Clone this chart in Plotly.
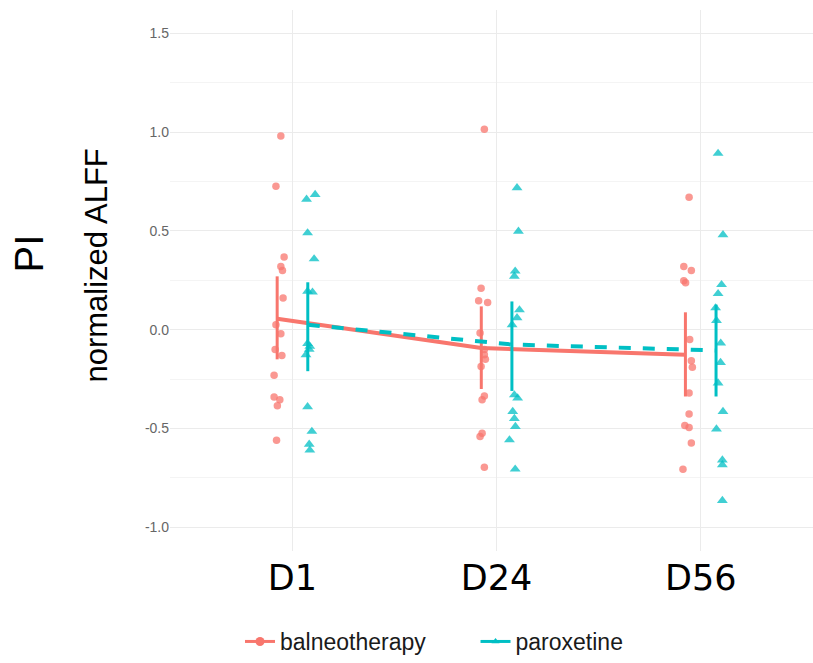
import plotly.graph_objects as go

categories = ["D1", "D24", "D56"]
cat_pos = [1, 2, 3]
dodge = 0.075

y_tick_vals = [-1.0, -0.5, 0.0, 0.5, 1.0, 1.5]
y_tick_text = ["-1.0", "-0.5", "0.0", "0.5", "1.0", "1.5"]

# group means and error bar limits
balneo_mean = [0.055, -0.093, -0.127]
balneo_low = [-0.15, -0.30, -0.338]
balneo_high = [0.27, 0.118, 0.088]
parox_mean = [0.025, -0.075, -0.105]
parox_low = [-0.21, -0.31, -0.338]
parox_high = [0.24, 0.143, 0.127]

# individual (jittered) observations
balneo_x = [0.943, 0.919, 0.959, 0.943, 0.951, 0.954, 0.919, 0.943, 0.915, 0.948, 0.910, 0.910, 0.938, 0.926, 0.922,
            1.940, 1.924, 1.912, 1.956, 1.919, 1.940, 1.940, 1.945, 1.924, 1.940, 1.929, 1.929, 1.919, 1.940,
            2.943, 2.917, 2.954, 2.917, 2.926, 2.946, 2.954, 2.959, 2.943, 2.943, 2.922, 2.943, 2.954, 2.913]
balneo_y = [0.98, 0.726, 0.368, 0.32, 0.30, 0.16, 0.025, -0.02, -0.10, -0.13, -0.23, -0.34, -0.355, -0.385, -0.56,
            1.014, 0.21, 0.147, 0.138, -0.017, -0.10, -0.127, -0.15, -0.186, -0.335, -0.355, -0.524, -0.54, -0.696,
            0.67, 0.32, 0.30, 0.248, 0.237, -0.05, -0.157, -0.19, -0.32, -0.427, -0.485, -0.495, -0.574, -0.706]
parox_x = [1.111, 1.069, 1.074, 1.106, 1.074, 1.098, 1.074, 1.085, 1.082, 1.066, 1.074, 1.095, 1.082, 1.085,
           2.100, 2.107, 2.091, 2.087, 2.112, 2.100, 2.076, 2.087, 2.103, 2.079, 2.087, 2.092, 2.063, 2.091,
           3.085, 3.109, 3.102, 3.085, 3.073, 3.077, 3.098, 3.097, 3.085, 3.109, 3.077, 3.106, 3.106, 3.106]
parox_y = [0.684, 0.66, 0.49, 0.358, 0.194, 0.19, -0.07, -0.085, -0.10, -0.127, -0.39, -0.515, -0.58, -0.61,
           0.718, 0.498, 0.296, 0.27, 0.10, 0.06, 0.025, -0.33, -0.346, -0.414, -0.45, -0.49, -0.558, -0.706,
           0.892, 0.48, 0.228, 0.182, 0.11, 0.046, -0.068, -0.166, -0.27, -0.414, -0.503, -0.66, -0.684, -0.865]

group_names = ["balneotherapy", "paroxetine"]

RED = "#F8766D"
TEAL = "#00BFC4"

fig = go.Figure()

fig.add_trace(go.Scatter(x=balneo_x, y=balneo_y, mode="markers", showlegend=False,
                         marker=dict(symbol="circle", size=7.5, color=RED, opacity=0.75)))
fig.add_trace(go.Scatter(x=parox_x, y=parox_y, mode="markers", showlegend=False,
                         marker=dict(symbol="triangle-up", size=9.5, color=TEAL, opacity=0.75)))

bx = [c - dodge for c in cat_pos]
px = [c + dodge for c in cat_pos]

fig.add_trace(go.Scatter(
    x=bx, y=balneo_mean, mode="lines", showlegend=False,
    line=dict(color=RED, width=4),
    error_y=dict(type="data", symmetric=False,
                 array=[h - m for h, m in zip(balneo_high, balneo_mean)],
                 arrayminus=[m - l for m, l in zip(balneo_mean, balneo_low)],
                 color=RED, thickness=3, width=0)))
fig.add_trace(go.Scatter(
    x=px, y=parox_mean, mode="lines", showlegend=False,
    line=dict(color=TEAL, width=4, dash="dash"),
    error_y=dict(type="data", symmetric=False,
                 array=[h - m for h, m in zip(parox_high, parox_mean)],
                 arrayminus=[m - l for m, l in zip(parox_mean, parox_low)],
                 color=TEAL, thickness=3, width=0)))

# legend entries
fig.add_trace(go.Scatter(x=[None], y=[None], mode="lines+markers",
                         name=group_names[0] + "\u00a0" * 7,
                         line=dict(color=RED, width=3),
                         marker=dict(symbol="circle", size=9, color=RED)))
fig.add_trace(go.Scatter(x=[None], y=[None], mode="lines+markers", name=group_names[1],
                         line=dict(color=TEAL, width=3),
                         marker=dict(symbol="triangle-up", size=7, color=TEAL)))

fig.add_annotation(text="PI", x=29, y=254, xref="paper", yref="paper", showarrow=False,
                   xanchor="center", yanchor="middle",
                   textangle=-90, font=dict(family="Liberation Sans", size=40, color="black"))
fig.add_annotation(text="normalized ALFF", x=97, y=266, xref="paper", yref="paper", showarrow=False,
                   xanchor="center", yanchor="middle",
                   textangle=-90, font=dict(family="Liberation Sans", size=31, color="black"))

W, H = 813, 663
L, R, T, B = 170, 0, 10, 111
pw, ph = W - L - R, H - T - B
# convert annotation pixel positions to paper coords
for a in fig.layout.annotations:
    a.x = (a.x - L) / pw
    a.y = (H - B - a.y) / ph

fig.update_layout(
    width=W, height=H,
    margin=dict(l=L, r=R, t=T, b=B, pad=0),
    paper_bgcolor="white", plot_bgcolor="white",
    xaxis=dict(range=[0.4, 3.55], tickvals=cat_pos, ticktext=categories,
               showgrid=True, gridcolor="#EBEBEB", gridwidth=1, zeroline=False,
               showline=False, ticks="", ticklabelstandoff=3,
               tickfont=dict(family="DejaVu Sans", size=35, color="black")),
    yaxis=dict(range=[-1.12, 1.618], tickvals=y_tick_vals, ticktext=y_tick_text,
               showgrid=True, gridcolor="#EBEBEB", gridwidth=1, zeroline=False,
               showline=False, ticks="",
               minor=dict(dtick=0.25, tick0=0, showgrid=True, gridcolor="#F4F4F4", gridwidth=1),
               tickfont=dict(family="Liberation Sans", size=14, color="#666666")),
    legend=dict(orientation="h", x=(240 - L) / pw, y=(H - B - 643) / ph, xanchor="left", yanchor="middle",
                font=dict(family="Liberation Sans", size=23, color="#1a1a1a"),
                bgcolor="rgba(0,0,0,0)"),
)

fig.write_html("out.html")
